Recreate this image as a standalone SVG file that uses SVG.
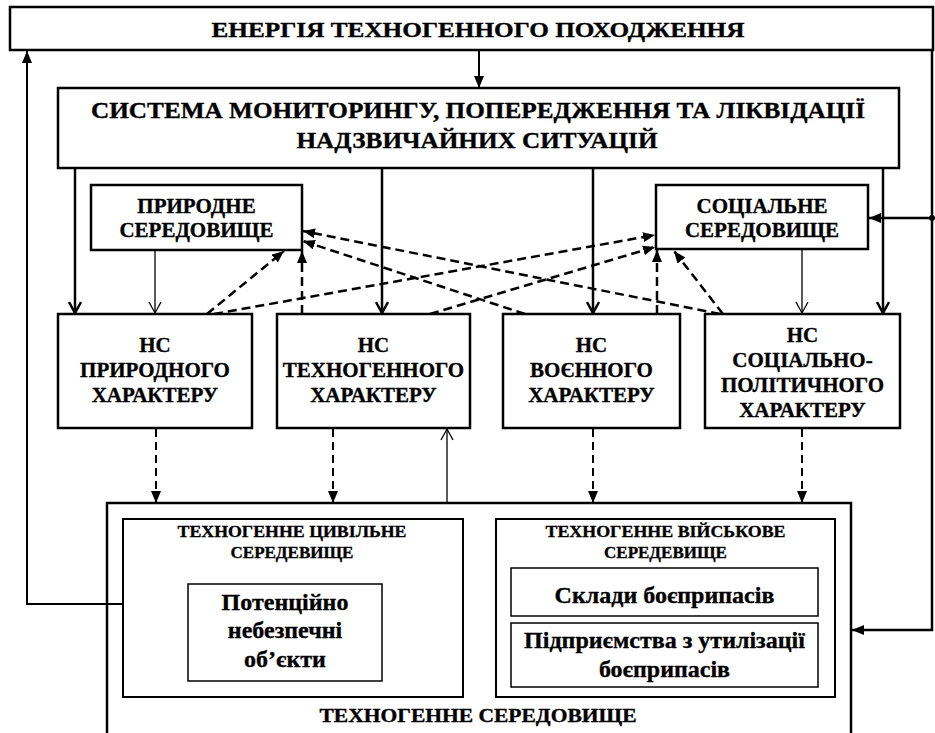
<svg xmlns="http://www.w3.org/2000/svg" width="935" height="733" viewBox="0 0 935 733">
<defs>
<style>
text{fill:#000;text-anchor:middle;stroke:#000;stroke-width:0.35}
.box{fill:#fff;stroke:#000;stroke-width:2.5}
.sub{fill:#fff;stroke:#000;stroke-width:2}
.inn{fill:#fff;stroke:#000;stroke-width:1.5}
.ln{fill:none;stroke:#000;stroke-width:2.5}
.thin{fill:none;stroke:#000;stroke-width:1.3}
.dash{fill:none;stroke:#000;stroke-width:2.5;stroke-dasharray:9 5}
.dashv{fill:none;stroke:#000;stroke-width:2;stroke-dasharray:8 5}
.t22{font-size:22px}.t24{font-size:24px}.t21{font-size:21px}.t17{font-size:17px}.t18{font-size:18px}
</style>
<marker id="fa" viewBox="0 0 12 10" refX="12" refY="5" markerWidth="12" markerHeight="10" markerUnits="userSpaceOnUse" orient="auto"><path d="M0,0 L12,5 L0,10 z" fill="#000"/></marker>
<marker id="vee" viewBox="0 0 14 14" refX="12" refY="7" markerWidth="14" markerHeight="14" markerUnits="userSpaceOnUse" orient="auto"><path d="M1,1 L12,7 L1,13" fill="none" stroke="#000" stroke-width="2.5"/></marker>
<marker id="veet" viewBox="0 0 14 14" refX="12" refY="7" markerWidth="14" markerHeight="14" markerUnits="userSpaceOnUse" orient="auto"><path d="M1,1 L12,7 L1,13" fill="none" stroke="#000" stroke-width="1.3"/></marker>
</defs>
<rect width="935" height="733" fill="#fff"/>

<g id="connectors">
<line class="ln" x1="479" y1="50" x2="479" y2="88" marker-end="url(#fa)" style="stroke-width:2"/>
<path class="ln" d="M123,604 H27 V51" marker-end="url(#fa)" style="stroke-width:2"/>
<path class="ln" d="M932,50 V630 H852" marker-end="url(#fa)"/>
<path class="ln" d="M932,218 H869" marker-end="url(#fa)"/>
<circle cx="932" cy="218" r="3" fill="#000"/>
<line class="ln" x1="75" y1="168" x2="75" y2="313" marker-end="url(#vee)"/>
<line class="ln" x1="382" y1="168" x2="382" y2="313" marker-end="url(#vee)"/>
<line class="ln" x1="593" y1="168" x2="593" y2="313" marker-end="url(#vee)"/>
<line class="ln" x1="883" y1="168" x2="883" y2="313" marker-end="url(#vee)"/>
<line class="thin" x1="155" y1="250" x2="155" y2="313" marker-end="url(#veet)"/>
<line class="thin" x1="802" y1="249" x2="802" y2="313" marker-end="url(#veet)"/>
<line class="thin" x1="447" y1="503" x2="447" y2="429" marker-end="url(#veet)"/>
<line class="dash" x1="207" y1="314" x2="284" y2="251" marker-end="url(#fa)"/>
<line class="dash" x1="302" y1="314" x2="302" y2="251" marker-end="url(#fa)"/>
<line class="dash" x1="525" y1="314" x2="303" y2="241" marker-end="url(#fa)"/>
<line class="dash" x1="720" y1="314" x2="303" y2="231" marker-end="url(#fa)"/>
<line class="dash" x1="214" y1="314" x2="655" y2="235" marker-end="url(#fa)"/>
<line class="dash" x1="430" y1="314" x2="655" y2="247" marker-end="url(#fa)"/>
<line class="dash" x1="657" y1="314" x2="657" y2="250" marker-end="url(#fa)"/>
<line class="dash" x1="723" y1="314" x2="674" y2="251" marker-end="url(#fa)"/>
<line class="dashv" x1="156" y1="429" x2="156" y2="503" marker-end="url(#fa)"/>
<line class="dashv" x1="333" y1="429" x2="333" y2="503" marker-end="url(#fa)"/>
<line class="dashv" x1="593" y1="429" x2="593" y2="503" marker-end="url(#fa)"/>
<line class="dashv" x1="802" y1="429" x2="802" y2="503" marker-end="url(#fa)"/>
</g>

<g font-family="Liberation Serif, Times New Roman, serif" font-weight="bold">
<g id="energy">
<rect class="box" x="10" y="7" width="923" height="43"/>
<text class="t22" x="478" y="37" textLength="533" lengthAdjust="spacingAndGlyphs">ЕНЕРГІЯ ТЕХНОГЕННОГО ПОХОДЖЕННЯ</text>
</g>

<g id="system">
<rect class="box" x="58" y="88" width="841" height="80"/>
<text class="t24" x="478" y="118" textLength="774" lengthAdjust="spacingAndGlyphs">СИСТЕМА МОНИТОРИНГУ, ПОПЕРЕДЖЕННЯ ТА ЛІКВІДАЦІЇ</text>
<text class="t24" x="477" y="148" textLength="361" lengthAdjust="spacingAndGlyphs">НАДЗВИЧАЙНИХ СИТУАЦІЙ</text>
</g>

<g id="natural-env">
<rect class="box" x="91" y="185" width="211" height="65"/>
<text class="t21" x="196.5" y="213">ПРИРОДНЕ</text>
<text class="t21" x="196.5" y="237">СЕРЕДОВИЩЕ</text>
</g>

<g id="social-env">
<rect class="box" x="656" y="185" width="212" height="64"/>
<text class="t21" x="762" y="213">СОЦІАЛЬНЕ</text>
<text class="t21" x="762" y="237">СЕРЕДОВИЩЕ</text>
</g>

<g id="ns-natural">
<rect class="box" x="58" y="314" width="194" height="114"/>
<text class="t21" x="155" y="352">НС</text>
<text class="t21" x="155" y="377">ПРИРОДНОГО</text>
<text class="t21" x="155" y="402">ХАРАКТЕРУ</text>
</g>

<g id="ns-technogenic">
<rect class="box" x="277" y="314" width="193" height="114"/>
<text class="t21" x="373.5" y="352">НС</text>
<text class="t21" x="373.5" y="377">ТЕХНОГЕННОГО</text>
<text class="t21" x="373.5" y="402">ХАРАКТЕРУ</text>
</g>

<g id="ns-military">
<rect class="box" x="503" y="314" width="177" height="114"/>
<text class="t21" x="591.5" y="352">НС</text>
<text class="t21" x="591.5" y="377">ВОЄННОГО</text>
<text class="t21" x="591.5" y="402">ХАРАКТЕРУ</text>
</g>

<g id="ns-sociopolitical">
<rect class="box" x="705" y="314" width="195" height="114"/>
<text class="t21" x="802.5" y="342">НС</text>
<text class="t21" x="802.5" y="367">СОЦІАЛЬНО-</text>
<text class="t21" x="802.5" y="392">ПОЛІТИЧНОГО</text>
<text class="t21" x="802.5" y="417">ХАРАКТЕРУ</text>
</g>

<g id="technogenic-env">
<path class="ln" d="M107,733 V503 H851 V733"/>
<text class="t18" x="478" y="722" textLength="317" lengthAdjust="spacingAndGlyphs">ТЕХНОГЕННЕ СЕРЕДОВИЩЕ</text>
</g>

<g id="civil-env">
<rect class="sub" x="123" y="519" width="340" height="178"/>
<text class="t17" x="292" y="537" textLength="229" lengthAdjust="spacingAndGlyphs">ТЕХНОГЕННЕ ЦИВІЛЬНЕ</text>
<text class="t17" x="292" y="558">СЕРЕДЕВИЩЕ</text>
</g>

<g id="hazardous-objects">
<rect class="inn" x="188" y="584" width="194" height="97"/>
<text class="t24" x="285" y="610">Потенційно</text>
<text class="t24" x="285" y="638">небезпечні</text>
<text class="t24" x="285" y="667">об’єкти</text>
</g>

<g id="military-env">
<rect class="sub" x="496" y="519" width="339" height="178"/>
<text class="t17" x="665.5" y="537" textLength="240" lengthAdjust="spacingAndGlyphs">ТЕХНОГЕННЕ ВІЙСЬКОВЕ</text>
<text class="t17" x="665.5" y="558">СЕРЕДЕВИЩЕ</text>
</g>

<g id="ammo-depots">
<rect class="inn" x="511" y="568" width="307" height="48"/>
<text class="t24" x="664.5" y="603">Склади боєприпасів</text>
</g>

<g id="ammo-disposal">
<rect class="inn" x="511" y="623" width="307" height="64"/>
<text class="t24" x="664.5" y="648">Підприємства з утилізації</text>
<text class="t24" x="664.5" y="677">боєприпасів</text>
</g>
</g>
</svg>
